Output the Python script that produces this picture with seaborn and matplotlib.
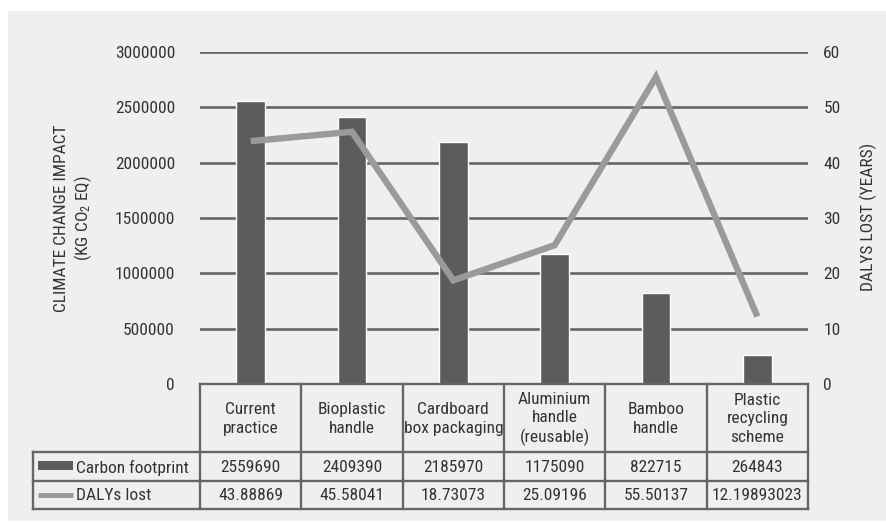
import numpy as np
import pandas as pd
import matplotlib
matplotlib.use("Agg")
import matplotlib.pyplot as plt
from matplotlib import font_manager
from matplotlib.patches import Rectangle
import seaborn as sns

# ---- data ----
categories = ["Current\npractice", "Bioplastic\nhandle", "Cardboard\nbox packaging",
              "Aluminium\nhandle\n(reusable)", "Bamboo\nhandle", "Plastic\nrecycling\nscheme"]
carbon_footprint = [2559690, 2409390, 2185970, 1175090, 822715, 264843]
dalys_lost = [43.88869, 45.58041, 18.73073, 25.09196, 55.50137, 12.19893023]
carbon_text = ["2559690", "2409390", "2185970", "1175090", "822715", "264843"]
dalys_text = ["43.88869", "45.58041", "18.73073", "25.09196", "55.50137", "12.19893023"]
left_ticks = [0, 500000, 1000000, 1500000, 2000000, 2500000, 3000000]
right_ticks = [0, 10, 20, 30, 40, 50, 60]
series_names = ["Carbon footprint", "DALYs lost"]

# ---- style ----
sns.set_theme(style="white")
available = {f.name for f in font_manager.fontManager.ttflist}
family = next((f for f in ["Liberation Sans Narrow", "Roboto Condensed", "Open Sans Condensed",
                           "Liberation Sans"] if f in available), "DejaVu Sans")
plt.rcParams["font.family"] = [family, "DejaVu Sans"]
plt.rcParams["mathtext.fontset"] = "custom"
plt.rcParams["mathtext.rm"] = family
plt.rcParams["mathtext.it"] = family

BG = "#efefef"
BAR = "#5c5c5c"
LINE = "#9a9a9a"
GRID = "#666666"
TXT = "#333333"
FS = 12.5

W, H = 886, 523
fig = plt.figure(figsize=(W / 100, H / 100), dpi=100, facecolor="white")


def fx(px):
    return px / W


def fy(py):
    return 1 - py / H


fig.patches.append(Rectangle((fx(8), fy(521)), fx(886) - fx(8), fy(11) - fy(521),
                             transform=fig.transFigure, facecolor=BG, edgecolor="none", zorder=-10))

# ---- main plot ----
X0, X1, Y0, Y1 = 200, 808, 384, 52
ax = fig.add_axes([fx(X0), fy(Y0), fx(X1) - fx(X0), fy(Y1) - fy(Y0)])
ax.set_facecolor("none")
df = pd.DataFrame({"pos": np.arange(len(categories)), "carbon": carbon_footprint, "dalys": dalys_lost})
sns.barplot(data=df, x="pos", y="carbon", color=BAR, saturation=1, width=0.28, ax=ax,
            native_scale=True, zorder=2)
ax.set_xlim(-0.5, len(categories) - 0.5)
ax.set_ylim(0, 3000000)
ax.set_yticks(left_ticks)
ax.set_yticklabels([str(v) for v in left_ticks])
ax.set_xticks([])
ax.set_xlabel("")
ax.set_ylabel("")
ax.grid(axis="y", color=GRID, lw=1.9)
ax.set_axisbelow(True)
ax.tick_params(axis="y", length=0, pad=18, labelsize=FS, labelcolor=TXT)
for s in ax.spines.values():
    s.set_visible(False)

ax2 = ax.twinx()
sns.lineplot(data=df, x="pos", y="dalys", color=LINE, lw=4.6, ax=ax2,
             solid_capstyle="butt", solid_joinstyle="miter", zorder=3)
ax2.set_ylim(0, 60)
ax2.set_yticks(right_ticks)
ax2.set_yticklabels([str(v) for v in right_ticks])
ax2.set_xlabel("")
ax2.set_ylabel("")
ax2.grid(False)
ax2.tick_params(axis="y", length=0, pad=11, labelsize=FS, labelcolor=TXT)
for s in ax2.spines.values():
    s.set_visible(False)

fig.text(fx(74), fy(218), "CLIMATE CHANGE IMPACT\n(KG CO$_2$ EQ)", rotation=90,
         ha="center", va="center", fontsize=FS, color=TXT, linespacing=1.2)
fig.text(fx(868), fy(217), "DALYS LOST (YEARS)", rotation=90,
         ha="center", va="center", fontsize=FS, color=TXT)

# ---- data table ----
TL, TH, TR1, TR2 = 33, 452, 481, 509
tab = fig.add_axes([0, 0, 1, 1])
tab.set_xlim(0, W)
tab.set_ylim(H, 0)
tab.axis("off")
tab.set_facecolor("none")
col_w = (X1 - X0) / len(categories)
edges = [X0 + i * col_w for i in range(len(categories) + 1)]
lc = dict(color=GRID, lw=1.7, solid_capstyle="projecting")
tab.plot([X0, X1], [Y0, Y0], **lc)
for yy in (TH, TR1, TR2):
    tab.plot([TL, X1], [yy, yy], **lc)
for e in edges:
    tab.plot([e, e], [Y0, TR2], **lc)
tab.plot([TL, TL], [TH, TR2], **lc)

for i, name in enumerate(categories):
    cx = (edges[i] + edges[i + 1]) / 2
    tab.text(cx, (Y0 + TH) / 2 + 1, name, ha="center", va="center", fontsize=FS,
             color=TXT, linespacing=1.3)
    tab.text(cx, (TH + TR1) / 2 + 1, carbon_text[i], ha="center", va="center", fontsize=FS, color=TXT)
    tab.text(cx, (TR1 + TR2) / 2 + 1, dalys_text[i], ha="center", va="center", fontsize=FS, color=TXT)

tab.add_patch(Rectangle((38, 461), 35, 9, facecolor=BAR, edgecolor="none"))
tab.plot([38, 73], [(TR1 + TR2) / 2, (TR1 + TR2) / 2], color=LINE, lw=3.5, solid_capstyle="butt")
tab.text(76, (TH + TR1) / 2 + 1, series_names[0], ha="left", va="center", fontsize=FS, color=TXT)
tab.text(76, (TR1 + TR2) / 2 + 1, series_names[1], ha="left", va="center", fontsize=FS, color=TXT)

fig.savefig("out.png", dpi=100, facecolor="white")
